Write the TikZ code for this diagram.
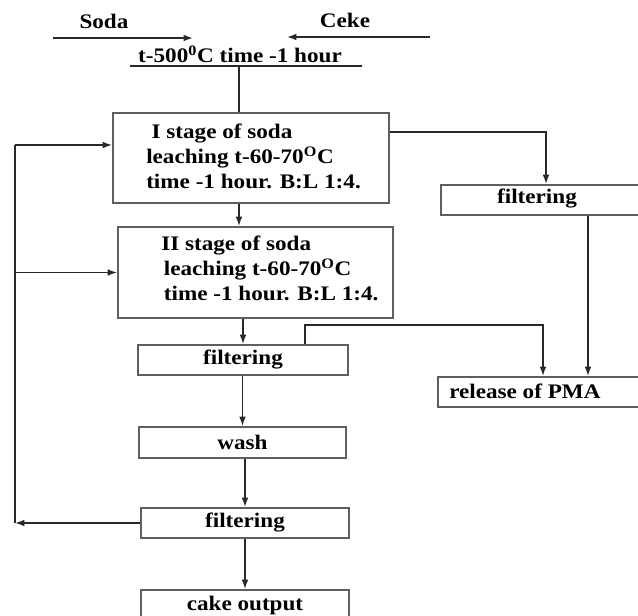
\documentclass[tikz,border=0pt]{standalone}
\usepackage{fontspec}
\setmainfont[FakeStretch=1.12]{Liberation Serif}
\usetikzlibrary{arrows.meta}
\definecolor{ink}{RGB}{40,40,40}
\definecolor{rulegrey}{RGB}{95,95,95}
\tikzset{
  box/.style   = {draw=rulegrey, line width=1.4pt, inner sep=0pt, text=black,
                  font=\fontsize{15.5}{18.75}\selectfont\bfseries},
  line/.style  = {draw=ink, line width=1.1pt},
  flow/.style  = {-{Latex[length=7pt,width=5pt]}, draw=ink, line width=1.1pt},
  lbl/.style   = {font=\fontsize{15.5}{18.75}\selectfont\bfseries, text=black, inner sep=0pt},
  txt/.style   = {font=\fontsize{15.5}{18.75}\selectfont\bfseries, text=black, inner sep=0pt,
                  align=left, anchor=west},
}

\begin{document}
\begin{tikzpicture}[x=0.75pt, y=-0.75pt]
\useasboundingbox (0,0) rectangle (638,616);

% ======================================================= feed and roasting
\node[lbl] (soda) at (104,21) {Soda};
\node[lbl] (ceke) at (345,20) {Ceke};
\coordinate (sodaS) at (53,38);  \coordinate (sodaE) at (193,38);
\coordinate (cekeS) at (430,37); \coordinate (cekeE) at (287,37);
\draw[flow] (sodaS) -- (sodaE);
\draw[flow] (cekeS) -- (cekeE);

\node[lbl] (roast) at (240,54) {t-500\textsuperscript{0}C time -1 hour};
\coordinate (barL) at (130,66); \coordinate (barR) at (362,66);
\coordinate (bar) at (239,66);
\draw[line] (barL) -- (barR);

% ======================================================= leaching column
\node[box, minimum width=207pt, minimum height=67.5pt] (stage1) at (251,158) {};
\node[txt] (stage1txt) at (146,156)
  {\hspace{4pt}I stage of soda\\leaching t-60-70\textsuperscript{O}C\\time -1 hour. B:L 1:4.};

\node[box, minimum width=206.25pt, minimum height=68.25pt] (stage2) at (255.5,272.5) {};
\node[txt] (stage2txt) at (161,268)
  {II stage of soda\\\hspace{2pt}leaching t-60-70\textsuperscript{O}C\\\hspace{2pt}time -1 hour. B:L 1:4.};

\node[box, minimum width=157.5pt, minimum height=22.5pt] (filt2) at (243,360) {filtering};
\node[box, minimum width=155.25pt, minimum height=23.25pt] (wash) at (242.5,442.5) {wash};
\node[box, minimum width=156pt, minimum height=22.5pt] (filt3) at (245,523) {filtering};
\node[box, minimum width=156pt, minimum height=24pt] (cake) at (245,606) {cake output};

% ======================================================= solution branch
\node[box, minimum width=157.5pt, minimum height=22.5pt] (filt1) at (546,200) {};
\node[lbl] (filt1txt) at (537,199) {filtering};
\node[box, minimum width=166.5pt, minimum height=22.5pt] (pma) at (549,392) {};
\node[txt] (pmatxt) at (449,391) {release of PMA};

% ======================================================= main flow
\draw[line] (bar) -- (bar |- stage1.north);
\draw[flow] (stage1.south -| bar) -- (stage2.north -| bar);
\draw[flow] (stage2.south -| filt2) -- (filt2.north);
\draw[flow] (filt2.south -| wash) -- (wash.north);
\draw[flow] (wash.south -| filt3) -- (filt3.north);
\draw[flow] (filt3.south) -- (cake.north);

% ---- liquor to the right
\coordinate (tapA) at (545,132);
\draw[flow] (stage1.east |- tapA) -| (filt1.north);
\coordinate (tapB) at (588,300);
\draw[flow] (filt1.south -| tapB) -- (pma.north -| tapB);
\coordinate (tapL) at (305,325); \coordinate (tapR) at (543,325);
\draw[flow] (filt2.north -| tapL) -- (tapL) -- (tapR) -- (pma.north -| tapR);

% ---- wash water back to both stages
\coordinate (loopB) at (15,523); \coordinate (loopT) at (15,145);
\draw[flow] (filt3.west) -- (loopB);
\draw[line] (loopB) -- (loopT);
\draw[flow] (loopT) -- (loopT -| stage1.west);
\draw[flow] (loopB |- stage2.west) -- (stage2.west);

\end{tikzpicture}
\end{document}
